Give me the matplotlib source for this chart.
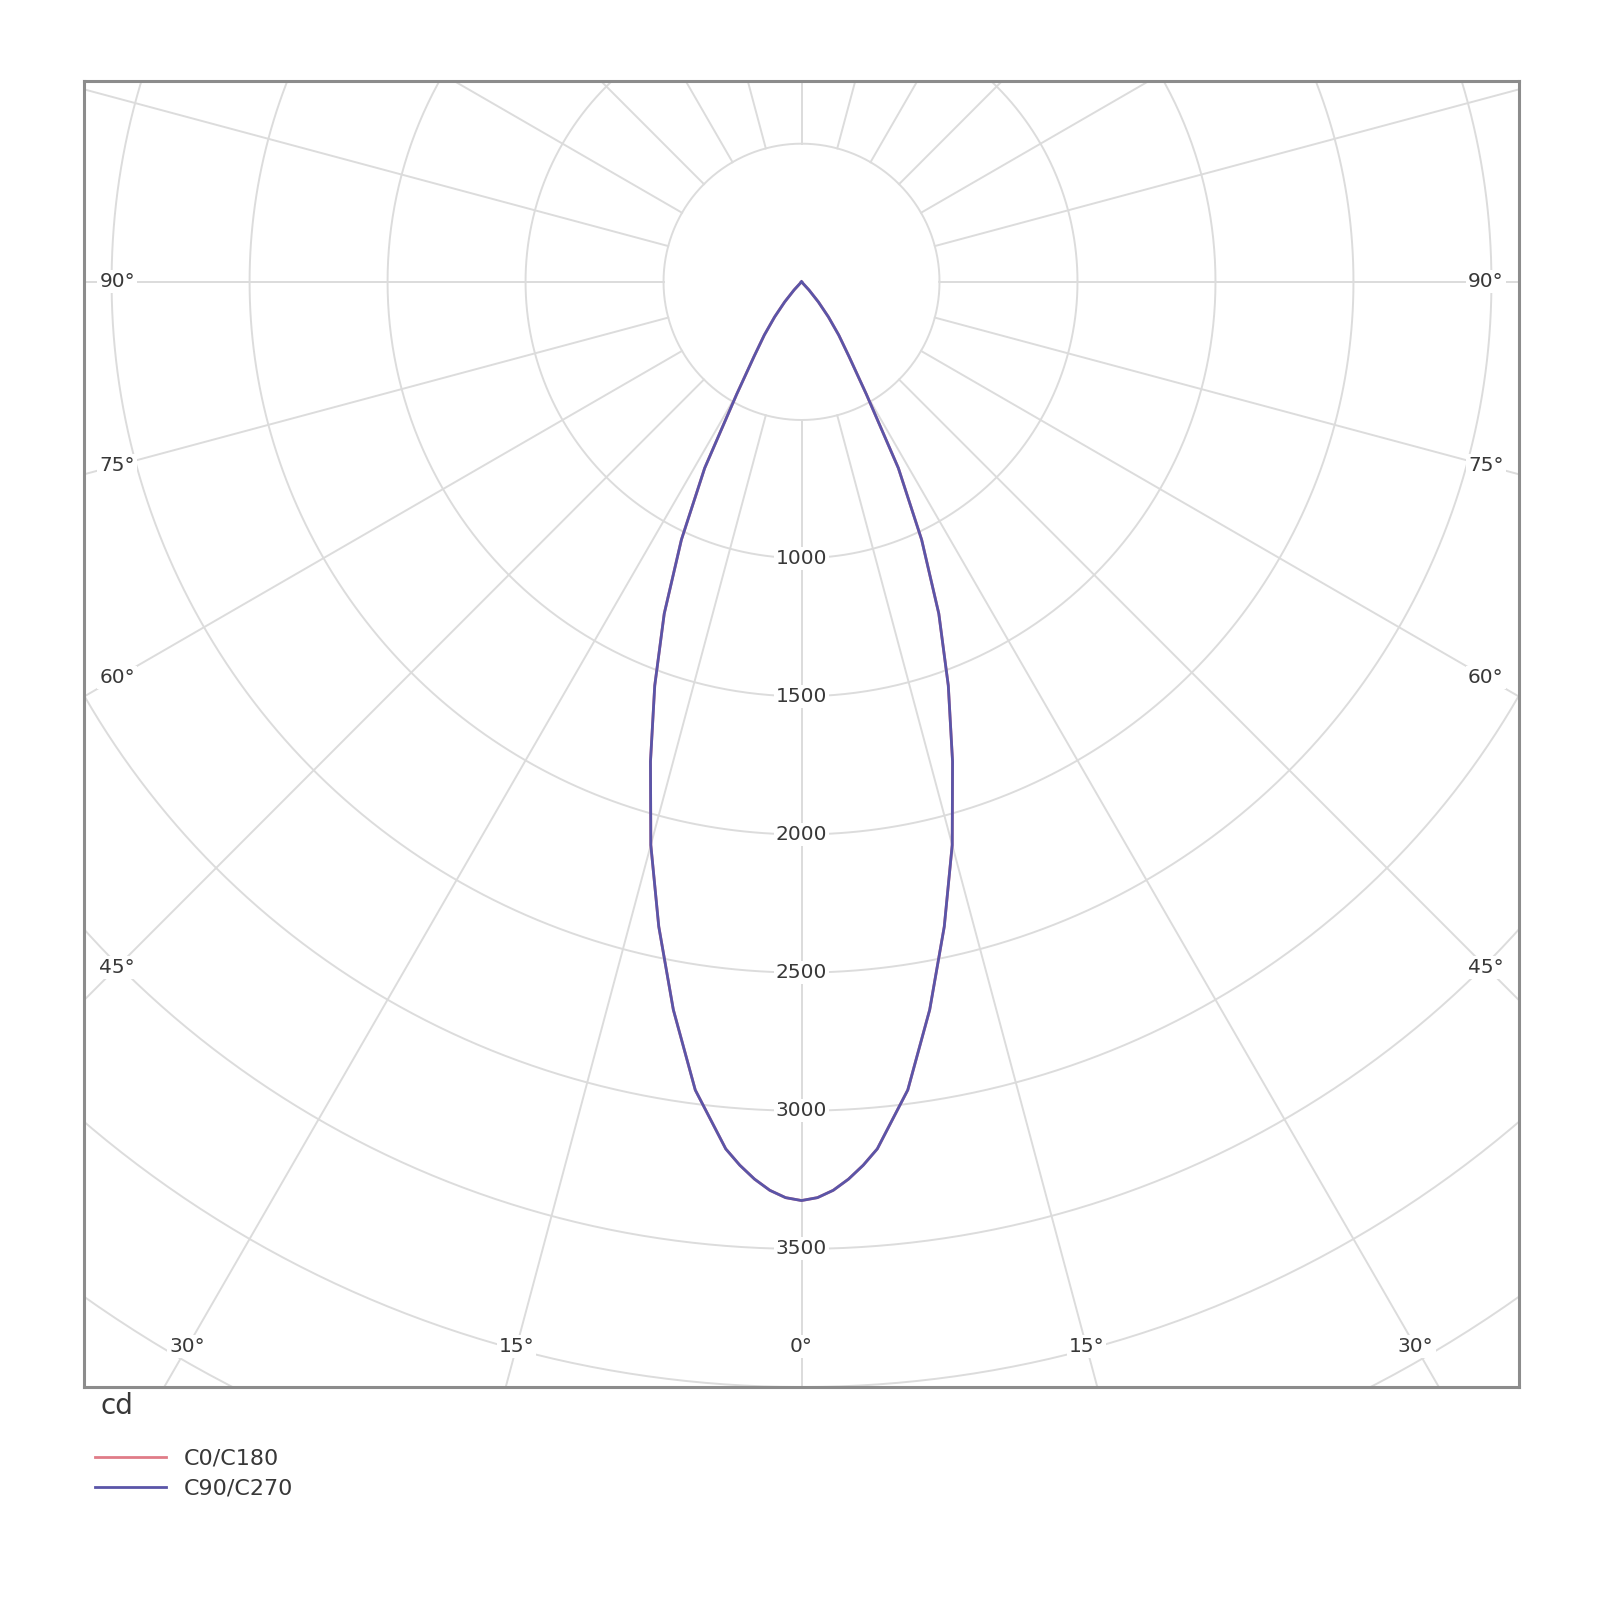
import numpy as np
import matplotlib
matplotlib.use('Agg')
import matplotlib.pyplot as plt

# luminous intensity (cd) vs gamma angle (deg from nadir)
gamma = [0, 1, 2, 3, 4, 5, 7.5, 10, 12.5, 15, 17.5, 20, 22.5, 25, 27.5, 30, 32.5,
         35, 37.5, 40, 42.5, 45, 50, 55, 60, 65, 70, 75, 80, 85, 90]
c0_c180 = [3325, 3315, 3290, 3252, 3205, 3150, 2950, 2675, 2390, 2110, 1820, 1555, 1300, 1030,
           760, 470, 320, 235, 160, 95, 40, 0, 0, 0, 0, 0, 0, 0, 0, 0, 0]
c90_c270 = [3325, 3315, 3290, 3252, 3205, 3150, 2950, 2675, 2390, 2110, 1820, 1555, 1300, 1030,
            760, 470, 320, 235, 160, 95, 40, 0, 0, 0, 0, 0, 0, 0, 0, 0, 0]

rings = [500, 1000, 1500, 2000, 2500, 3000, 3500, 4000, 4500, 5000]
ring_labels = [1000, 1500, 2000, 2500, 3000, 3500]
side_angles = [90, 75, 60, 45]
bottom_angles = [30, 15, 0]

grid_col = '#dcdcdc'
txt_col = '#383838'

fig = plt.figure(figsize=(16, 16), dpi=100)
ax = fig.add_axes([0.0525, 0.1331, 0.8969, 0.8163])
ax.set_xlim(-2600, 2600)
ax.set_ylim(-4000, 727)
ax.set_xticks([])
ax.set_yticks([])
for s in ax.spines.values():
    s.set_color('#8c8c8c')
    s.set_linewidth(2.2)

# concentric rings
t = np.linspace(0, 2 * np.pi, 721)
for r in rings:
    ax.plot(r * np.cos(t), r * np.sin(t), color=grid_col, lw=1.4, zorder=1)

# rays every 15 deg, starting at the inner ring
for a in range(0, 360, 15):
    ar = np.radians(a)
    ax.plot([500 * np.sin(ar), 7000 * np.sin(ar)], [-500 * np.cos(ar), -7000 * np.cos(ar)],
            color=grid_col, lw=1.4, zorder=1)

box = dict(fc='white', ec='none', pad=1.5)
for r in ring_labels:
    ax.text(0, -r, str(r), ha='center', va='center', fontsize=14.5, color=txt_col,
            bbox=box, zorder=3)

# angle labels placed where the rays meet an inset rectangle
xin, yin = 2480, 3855
for a in side_angles:
    ar = np.radians(a)
    y = -xin / np.tan(ar) if a != 90 else 0
    for sgn in (-1, 1):
        ax.text(sgn * xin, y, f'{a}°', ha='center', va='center', fontsize=14.5,
                color=txt_col, bbox=box, zorder=3)
for a in bottom_angles:
    x = yin * np.tan(np.radians(a))
    for sgn in ((-1, 1) if a else (1,)):
        ax.text(sgn * x, -yin, f'{a}°', ha='center', va='center', fontsize=14.5,
                color=txt_col, bbox=box, zorder=3)

# intensity curves, mirrored about nadir
g = np.radians(np.array(gamma))
th = np.concatenate([-g[::-1], g[1:]])
for vals, col, lab in [(c0_c180, '#e07c88', 'C0/C180'), (c90_c270, '#5a55a8', 'C90/C270')]:
    v = np.array(vals, dtype=float)
    I = np.concatenate([v[::-1], v[1:]])
    ax.plot(I * np.sin(th), -I * np.cos(th), color=col, lw=2.0, label=lab, zorder=4)

fig.text(100 / 1600, 1 - 1406 / 1600, 'cd', fontsize=20, color=txt_col, va='center', ha='left')
leg = fig.legend(loc='upper left', bbox_to_anchor=(95 / 1600, 1 - 1449 / 1600),
                 frameon=False, fontsize=16, handlelength=3.2, handletextpad=0.8,
                 borderpad=0, borderaxespad=0, labelspacing=0.45)
for txt in leg.get_texts():
    txt.set_color(txt_col)

fig.savefig('out.png', dpi=100, facecolor='white')
